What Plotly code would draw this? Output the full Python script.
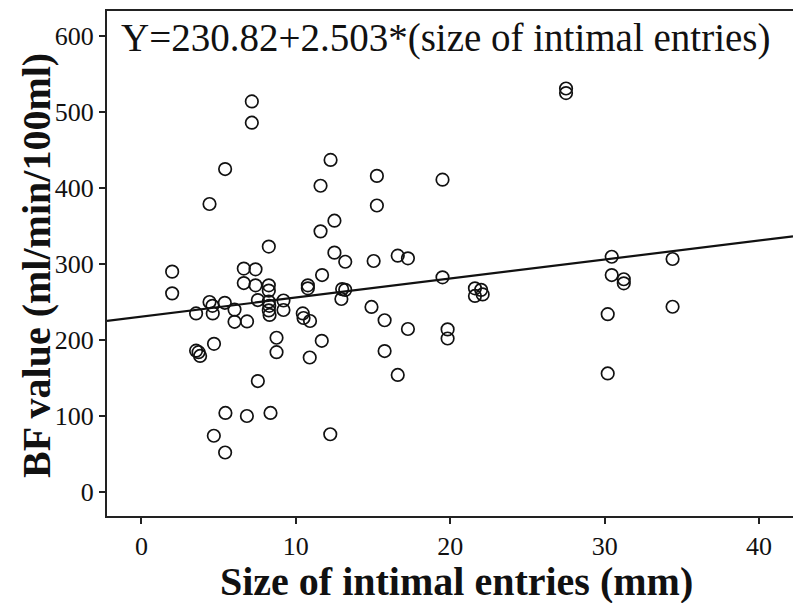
import plotly.graph_objects as go

# Data (size of intimal entries in mm, BF value)
size_mm = [
    7.15, 7.15, 5.42, 4.41, 12.25, 11.6, 15.25, 15.25, 19.5, 27.5, 27.5, 12.5, 11.6, 8.25,
    1.99, 6.63, 7.39, 12.5, 13.2, 15.04, 16.6, 17.26, 11.7, 19.5, 30.46, 30.46, 31.24, 31.24,
    34.4, 34.4, 30.2, 30.2,
    1.99, 6.63, 7.39, 8.25, 8.25, 10.78, 10.78, 13.0, 13.2, 12.95, 21.6, 22.0, 22.1, 21.6,
    4.41, 4.6, 5.4, 3.54, 4.62, 6.03, 6.03, 6.84, 7.54, 8.25, 8.28, 8.25, 8.3, 9.2, 9.2,
    10.45, 10.5, 10.92, 14.9, 15.75, 17.26, 19.83, 19.83, 15.75, 16.6,
    3.54, 3.7, 3.8, 4.7, 8.75, 8.75, 11.68, 10.9, 7.54, 5.44, 6.83, 8.36, 4.69, 12.23, 5.42,
]
bf_value = [
    514, 486, 425, 379, 437, 403, 416, 377, 411, 531, 525, 357, 343, 323,
    290, 294, 293, 315, 303, 304, 311, 307.5, 285.5, 282.5, 309.6, 285.5, 280, 274.6,
    306.6, 243.8, 234, 156,
    261.4, 275, 272, 272, 265, 272, 268, 267, 266, 254, 268, 266, 260, 258,
    250, 245, 249, 235, 235, 240, 224, 224.5, 252.6, 250.5, 245, 239, 233, 252, 239.5,
    235, 229, 225, 243.5, 226, 214.5, 214, 202, 185.5, 154,
    186, 184, 179, 195, 203, 184, 199, 177, 146, 104, 100, 104, 74, 76, 52,
]

# Regression equation
intercept = 230.82
slope = 2.503

x_ticks = [0, 10, 20, 30, 40]
y_ticks = [0, 100, 200, 300, 400, 500, 600]
x_range = [-2.23, 42.2]
y_range = [-31.6, 633]

x_title = "Size of intimal entries (mm)"
y_title = "BF value (ml/min/100ml)"
equation = "Y=230.82+2.503*(size of intimal entries)"

FONT = "Liberation Serif, Times New Roman, serif"

line_x = x_range
line_y = [intercept + slope * v for v in line_x]

fig = go.Figure()
fig.add_trace(go.Scatter(
    x=size_mm, y=bf_value, mode="markers",
    marker=dict(symbol="circle-open", size=12.5, color="#111111",
                line=dict(width=1.7, color="#111111")),
    showlegend=False, cliponaxis=False,
))
fig.add_trace(go.Scatter(
    x=line_x, y=line_y, mode="lines",
    line=dict(color="#111111", width=2.2), showlegend=False,
))

fig.update_layout(
    width=793, height=603,
    margin=dict(l=107, r=0, t=11, b=87, autoexpand=False),
    paper_bgcolor="white", plot_bgcolor="white",
    font=dict(family=FONT, color="#111111"),
    xaxis=dict(
        range=x_range, tickvals=x_ticks, showgrid=False, zeroline=False,
        showline=True, linecolor="#222222", linewidth=2, mirror=True,
        ticks="outside", ticklen=6, tickwidth=1.5, tickcolor="#222222",
        tickfont=dict(size=26, family=FONT), automargin=False,
    ),
    yaxis=dict(
        range=y_range, tickvals=y_ticks, showgrid=False, zeroline=False,
        showline=True, linecolor="#222222", linewidth=2,
        ticks="outside", ticklen=6, tickwidth=1.5, tickcolor="#222222",
        tickfont=dict(size=26, family=FONT), automargin=False,
    ),
    annotations=[
        dict(text=equation, xref="paper", yref="paper", x=0.0175, y=0.947,
             xanchor="left", yanchor="middle", showarrow=False,
             font=dict(size=39, family=FONT, color="#111111")),
        dict(text="<b>" + x_title + "</b>", xref="paper", yref="paper",
             x=0.509, y=-0.129, xanchor="center", yanchor="middle", showarrow=False,
             font=dict(size=40, family=FONT, color="#111111")),
        dict(text="<b>" + y_title + "</b>", xref="paper", yref="paper",
             x=-0.1035, y=0.497, xanchor="center", yanchor="middle", showarrow=False,
             textangle=-90, font=dict(size=40, family=FONT, color="#111111")),
    ],
)

fig.write_html(
    "out.html",
    config={"displayModeBar": False},
    post_script="document.body.style.margin='0';document.body.style.overflow='hidden';",
)
